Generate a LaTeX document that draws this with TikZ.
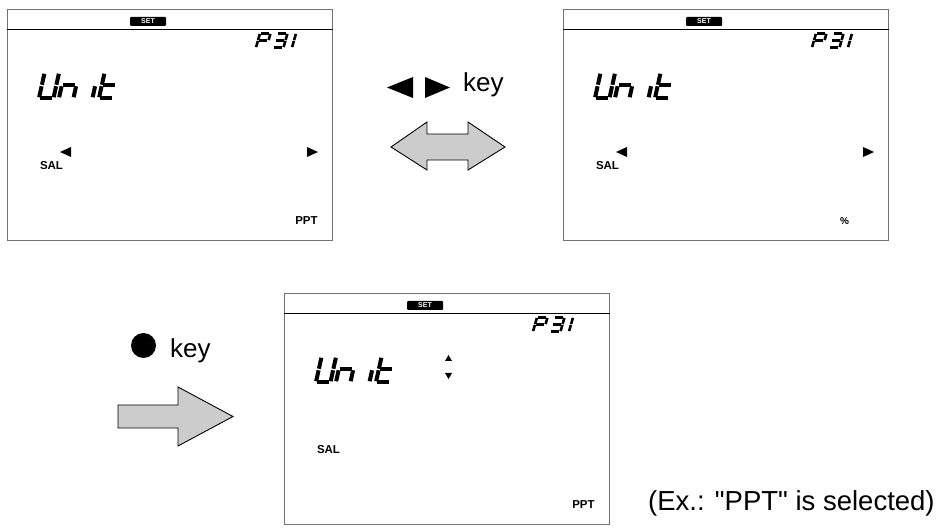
\documentclass[tikz,border=0pt]{standalone}
\usepackage{fontspec}
\setmainfont{Liberation Sans}[Ligatures=TeXOff]
\tikzset{
  lcdbox/.style={draw=black!55, line width=0.8pt, minimum width=325pt, minimum height=231pt, inner sep=0pt, anchor=north west},
  setlabel/.style={fill=black, rounded corners=1pt, text=white, font=\bfseries\fontsize{7}{8}\selectfont, minimum width=36pt, minimum height=9pt, inner sep=0pt},
  small/.style={font=\bfseries\fontsize{11.5}{12}\selectfont, inner sep=0pt},
  bigtext/.style={font=\fontsize{26}{30}\selectfont, inner sep=0pt},
  fatarrow/.style={fill=black!20, draw=black, line width=0.9pt, line join=miter},
}
\def\segw{3pt}
\newcommand{\sgA}{\draw[line width=\segw, line cap=butt] (0.1,2) -- (0.9,2);}
\newcommand{\sgB}{\draw[line width=\segw, line cap=butt] (1,1.94) -- (1,1.06);}
\newcommand{\sgC}{\draw[line width=\segw, line cap=butt] (1,0.94) -- (1,0.06);}
\newcommand{\sgD}{\draw[line width=\segw, line cap=butt] (0.1,0) -- (0.9,0);}
\newcommand{\sgE}{\draw[line width=\segw, line cap=butt] (0,0.94) -- (0,0.06);}
\newcommand{\sgF}{\draw[line width=\segw, line cap=butt] (0,1.94) -- (0,1.06);}
\newcommand{\sgG}{\draw[line width=\segw, line cap=butt] (0.1,1) -- (0.9,1);}
% x, y (bottom left), width, height, line width, segments
\newcommand{\lcdglyph}[6]{\begin{scope}[shift={(#1,#2)},xscale=#3,yscale=-#4/2,xslant=-0.19]\def\segw{#5}#6\end{scope}}
\newcommand{\lcdcommon}{%
  \node[lcdbox] (box) at (7,9) {};
  \draw[line width=1.3pt] (box.west |- 0,29.5) -- (box.east |- 0,29.5);
  \node[setlabel] (set) at (148,21.5) {SET};
  \lcdglyph{256}{47.5}{10.5}{14}{2.6pt}{\sgA\sgB\sgE\sgF\sgG}
  \lcdglyph{273}{47.5}{10.5}{14}{2.6pt}{\sgA\sgB\sgC\sgD\sgG}
  \lcdglyph{292}{47.5}{10.5}{14}{2.6pt}{\sgE\sgF}
  \lcdglyph{39}{98}{14.5}{25}{4pt}{\sgB\sgC\sgD\sgE\sgF}
  \lcdglyph{59}{98}{14.5}{25}{4pt}{\sgC\sgE\sgG}
  \lcdglyph{78}{98}{14.5}{25}{4pt}{\sgC}
  \lcdglyph{99}{98}{14.5}{25}{4pt}{\sgD\sgE\sgF\sgG}
  \node[small] (sal) at (51.5,166) {SAL};
}
\newcommand{\lrtri}{%
  \fill (60,152) -- (71,147) -- (71,157) -- cycle;
  \fill (318,152) -- (307,147) -- (307,157) -- cycle;
}
\begin{document}
\begin{tikzpicture}[x=1pt, y=-1pt]
\useasboundingbox (0,0) rectangle (938,529);
% panel 1
\begin{scope}[name prefix=pa-]
  \lcdcommon
  \lrtri
  \node[small] (unit) at (306.5,221) {PPT};
\end{scope}
% panel 2
\begin{scope}[shift={(556,0)}, name prefix=pb-]
  \lcdcommon
  \lrtri
  \node[small, font=\bfseries\fontsize{10}{11}\selectfont] (unit) at (288.5,221) {\%};
\end{scope}
% panel 3
\begin{scope}[shift={(277,284)}, name prefix=pc-]
  \lcdcommon
  \fill (168,77) -- (175,77) -- (171.5,71) -- cycle;
  \fill (168,89) -- (175,89) -- (171.5,95) -- cycle;
  \node[small] (unit) at (306.5,221) {PPT};
\end{scope}
% left/right key
\fill (387,87.5) -- (413,77) -- (413,98) -- cycle;
\fill (450,87.5) -- (425,77) -- (425,98) -- cycle;
\node[bigtext, anchor=base west] (key1) at (463,91.5) {key};
\draw[fatarrow] (391,147) -- (427,122) -- (427,134) -- (468,134) -- (468,122) -- (505,147)
  -- (468,170) -- (468,160) -- (427,160) -- (427,170) -- cycle;
% enter key
\fill (143.5,345.5) circle (12.5);
\node[bigtext, anchor=base west] (key2) at (170,358) {key};
\draw[fatarrow] (118,405) -- (178,405) -- (178,387) -- (233,416.5) -- (178,446) -- (178,428) -- (118,428) -- cycle;
% note
\node[bigtext, font=\fontsize{27.5}{31}\selectfont, anchor=base west] (note) at (648,511) {(Ex.: "PPT" is selected)};
\end{tikzpicture}
\end{document}
